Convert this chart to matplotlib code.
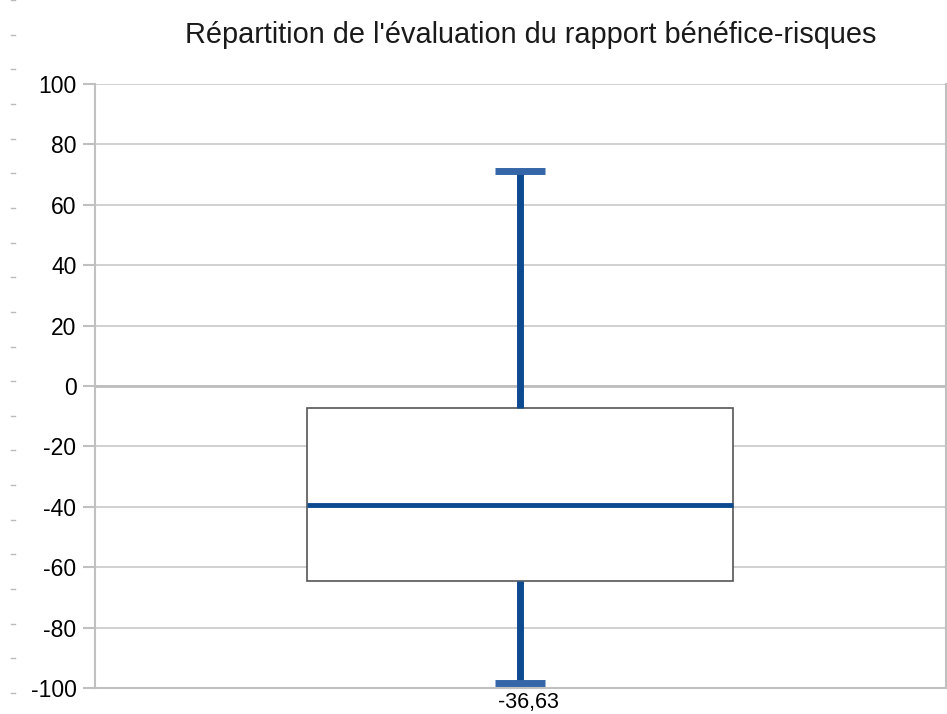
import matplotlib
matplotlib.use("Agg")
import matplotlib.pyplot as plt
import matplotlib.transforms as mtransforms
from matplotlib.lines import Line2D

plt.rcParams['font.family'] = ['Liberation Sans', 'DejaVu Sans']

title = "Répartition de l'évaluation du rapport bénéfice-risques"
category = ["-36,63"]
whisker_low = [-98.4]
q1 = [-64.5]
median = [-39.3]
q3 = [-7.3]
whisker_high = [71.2]
yticks = [-100, -80, -60, -40, -20, 0, 20, 40, 60, 80, 100]

fig = plt.figure(figsize=(9.47, 7.14), dpi=100)
ax = fig.add_axes([0.0998, 0.0364, 0.8992, 0.846])

stats = [dict(label=category[i], whislo=whisker_low[i], q1=q1[i], med=median[i],
              q3=q3[i], whishi=whisker_high[i], fliers=[]) for i in range(len(category))]

ax.bxp(stats, positions=[1], widths=1.0, showfliers=False, patch_artist=True,
       boxprops=dict(facecolor='white', edgecolor='#555555', linewidth=1.2),
       medianprops=dict(color='#0d4a8f', linewidth=3.5, solid_capstyle='butt'),
       whiskerprops=dict(color='#0d4a8f', linewidth=5, solid_capstyle='butt'),
       capprops=dict(color='#3566a8', linewidth=5, solid_capstyle='butt'),
       capwidths=0.118, zorder=3)

ax.set_xlim(0, 2)
ax.set_ylim(-100, 100)
ax.set_yticks(yticks)
ax.set_yticklabels([str(v) for v in yticks])
ax.set_xticks([1])
ax.set_xticklabels(category)
ax.yaxis.grid(True, color='#c8c8c8', linewidth=1.2, zorder=0)
ax.set_axisbelow(True)
ax.axhline(0, color='#bdbdbd', linewidth=2.0, zorder=1)

for s in ['left', 'bottom', 'right']:
    ax.spines[s].set_color('#c0c0c0')
    ax.spines[s].set_linewidth(1.5)
ax.spines['top'].set_visible(False)
ax.tick_params(axis='y', length=9, width=1.5, color='#c0c0c0', labelsize=16.5, pad=4)
ax.tick_params(axis='x', length=0, labelsize=15.5, pad=3)

offset = mtransforms.ScaledTranslation(8/100, 0, fig.dpi_scale_trans)
for lbl in ax.get_xticklabels():
    lbl.set_transform(lbl.get_transform() + offset)

fig.text(0.560, 0.94, title, ha='center', va='baseline', fontsize=20.8, color='#1a1a1a')

# faint dashes along the left edge
for k in range(21):
    yy = 1 - (0 + k * 34.65) / 714
    fig.add_artist(Line2D([11/947, 15/947], [yy, yy], color='#bbbbbb', linewidth=1))

fig.savefig("out.png", dpi=100)
